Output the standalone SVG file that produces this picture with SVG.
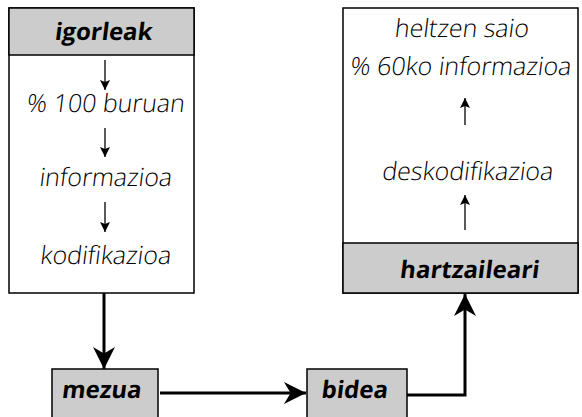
<svg xmlns="http://www.w3.org/2000/svg" width="582" height="417" viewBox="0 0 582 417">
<defs>
<style>
.box{fill:#fff;stroke:#000;stroke-width:1.5}
.hdr{fill:#cccccc;stroke:#000;stroke-width:1.5}
.t{font-family:"Open Sans","DejaVu Sans",sans-serif;font-size:25px;font-weight:300;text-anchor:middle;fill:#000}
.b{font-weight:bold;font-size:24px}
.thin{stroke:#000;stroke-width:1.3;fill:none}
.thick{stroke:#000;stroke-width:3;fill:none}
</style>
<marker id="sa" viewBox="0 0 10 10" refX="10" refY="5" markerWidth="12" markerHeight="10" markerUnits="userSpaceOnUse" orient="auto">
<path d="M0,0 L10,5 L0,10 L2,5 Z" fill="#000"/>
</marker>
<marker id="la" viewBox="0 0 10 10" refX="10" refY="5" markerWidth="22" markerHeight="22" markerUnits="userSpaceOnUse" orient="auto">
<path d="M0,0 L10,5 L0,10 L3,5 Z" fill="#000"/>
</marker>
</defs>
<g id="igorleak">
<rect class="box" x="9" y="8" width="185" height="285"/>
<rect class="hdr" x="9" y="8" width="185" height="47"/>
<text class="t b" transform="translate(103,40) skewX(-7)">igorleak</text>
<text class="t" transform="translate(105,112) skewX(-7)">% 100 buruan</text>
<text class="t" transform="translate(105,186) skewX(-7)">informazioa</text>
<text class="t" transform="translate(105,264) skewX(-7)">kodifikazioa</text>
<line class="thin" x1="105" y1="60" x2="105" y2="90" marker-end="url(#sa)"/>
<line class="thin" x1="105" y1="128" x2="105" y2="157" marker-end="url(#sa)"/>
<line class="thin" x1="105" y1="202" x2="105" y2="232" marker-end="url(#sa)"/>
</g>
<g id="hartzaileari">
<rect class="box" x="343" y="8" width="235" height="285"/>
<rect class="hdr" x="343" y="243" width="235" height="50"/>
<text class="t b" transform="translate(469,278) skewX(-7)">hartzaileari</text>
<text class="t" transform="translate(461,37) skewX(-7)">heltzen saio</text>
<text class="t" transform="translate(460,75) skewX(-7)">% 60ko informazioa</text>
<text class="t" transform="translate(467,180) skewX(-7)">deskodifikazioa</text>
<line class="thin" x1="465" y1="125" x2="465" y2="98" marker-end="url(#sa)"/>
<line class="thin" x1="465" y1="230" x2="465" y2="195" marker-end="url(#sa)"/>
</g>
<g id="mezua">
<rect class="hdr" x="52" y="369" width="106" height="50"/>
<text class="t b" transform="translate(101,398) skewX(-7)">mezua</text>
</g>
<g id="bidea">
<rect class="hdr" x="307" y="369" width="100" height="50"/>
<text class="t b" transform="translate(354,398) skewX(-7)">bidea</text>
</g>
<g id="connectors">
<line class="thick" x1="104" y1="293" x2="104" y2="369" marker-end="url(#la)"/>
<line class="thick" x1="160" y1="393" x2="306" y2="393" marker-end="url(#la)"/>
<polyline class="thick" points="407,395 465,395 465,294" marker-end="url(#la)"/>
</g>
</svg>
